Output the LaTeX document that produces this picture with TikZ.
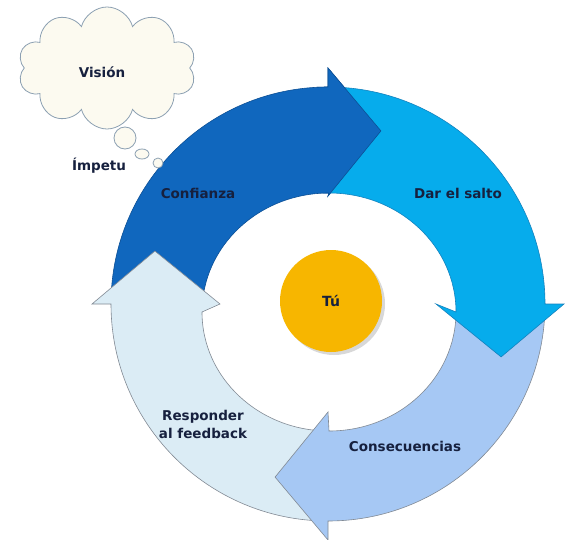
\documentclass[tikz,border=0pt]{standalone}
\usepackage{fontspec}
\setmainfont{DejaVu Sans}
\usetikzlibrary{shapes.symbols,shadows}
\definecolor{cdark}{RGB}{16,103,190}
\definecolor{cdarkline}{RGB}{12,80,150}
\definecolor{ccyan}{RGB}{6,172,236}
\definecolor{ccyanline}{RGB}{20,130,190}
\definecolor{cperi}{RGB}{166,200,244}
\definecolor{cpale}{RGB}{219,236,245}
\definecolor{cgrayline}{RGB}{130,138,148}
\definecolor{cnavy}{RGB}{22,32,62}
\definecolor{cyellow}{RGB}{247,182,0}
\definecolor{ccloud}{RGB}{252,250,240}
\definecolor{ccloudline}{RGB}{140,160,178}
\begin{document}
\begin{tikzpicture}[x=1pt,y=1pt,
  lbl/.style={font=\fontsize{13.5}{18}\selectfont\bfseries, text=cnavy, align=center, inner sep=0pt},
  ringline/.style={line width=0.6pt, line join=miter}]
\useasboundingbox (0,0) rectangle (569,539);
\fill[white] (0,0) rectangle (569,539);
% ring arrows: tail angle, head base angle, fill, line
% outer edge: circle r=217 about the ring centre; inner edge: ellipse 127x119 about (1,-8)
\def\ringarrow#1#2#3#4{%
  \filldraw[fill=#3, draw=#4, ringline]
    (#1:217pt) arc[start angle=#1, end angle=#2, radius=217pt]
    -- (#2:236pt) -- ({#2-17}:181pt) -- (#2:108pt)
    -- ({1+127*cos(#2)},{-8+119*sin(#2)})
    arc[start angle=#2, end angle=#1, x radius=127pt, y radius=119pt] -- cycle;}
\begin{scope}[shift={(328,235)}]
  \ringarrow{180}{90}{cdark}{cdarkline}
  \ringarrow{270}{180}{cpale}{cgrayline}
  \ringarrow{360}{270}{cperi}{cgrayline}
  \ringarrow{90}{0}{ccyan}{ccyanline}
  % redraw head of the dark arrow on top of the cyan tail
  \fill[cdark] (93:217pt) arc[start angle=93, end angle=90, radius=217pt]
    -- (90:236pt) -- (73:181pt) -- (90:108pt) -- ({1+127*cos(90)},{-8+119*sin(90)})
    arc[start angle=90, end angle=93, x radius=127pt, y radius=119pt] -- cycle;
  \draw[cdarkline, ringline] (93:217pt) arc[start angle=93, end angle=90, radius=217pt]
    -- (90:236pt) -- (73:181pt) -- (90:108pt) -- ({1+127*cos(90)},{-8+119*sin(90)})
    arc[start angle=90, end angle=93, x radius=127pt, y radius=119pt];
\end{scope}
% centre
\node[circle, fill=cyellow, minimum size=102pt, inner sep=0pt,
  drop shadow={opacity=0.25, fill=black!60, shadow xshift=3pt, shadow yshift=-3pt},
  font=\fontsize{14}{16}\selectfont\bfseries, text=cnavy] (tu) at (331,238) {Tú};
% labels
\node[lbl] (confianza) at (198,346) {Confianza};
\node[lbl] (salto) at (458,346) {Dar el salto};
\node[lbl] (consec) at (405,93) {Consecuencias};
\node[lbl] (respond) at (203,115) {Responder\\al feedback};
% cloud
\node[cloud, cloud puffs=10, aspect=1.45, draw=ccloudline, fill=ccloud, line width=0.8pt,
  minimum width=178pt, minimum height=122pt, inner sep=0pt] (cloud) at (107,471) {};
\node[lbl] (vision) at (102,467) {Visión};
\draw[ccloudline, fill=ccloud, line width=0.8pt] (125,401) circle[radius=11pt];
\draw[ccloudline, fill=ccloud, line width=0.8pt] (142,385) ellipse[x radius=7pt, y radius=5pt];
\draw[ccloudline, fill=ccloud, line width=0.8pt] (158,376) circle[radius=5pt];
\node[lbl] (impetu) at (99,373) {Ímpetu};
\end{tikzpicture}
\end{document}
